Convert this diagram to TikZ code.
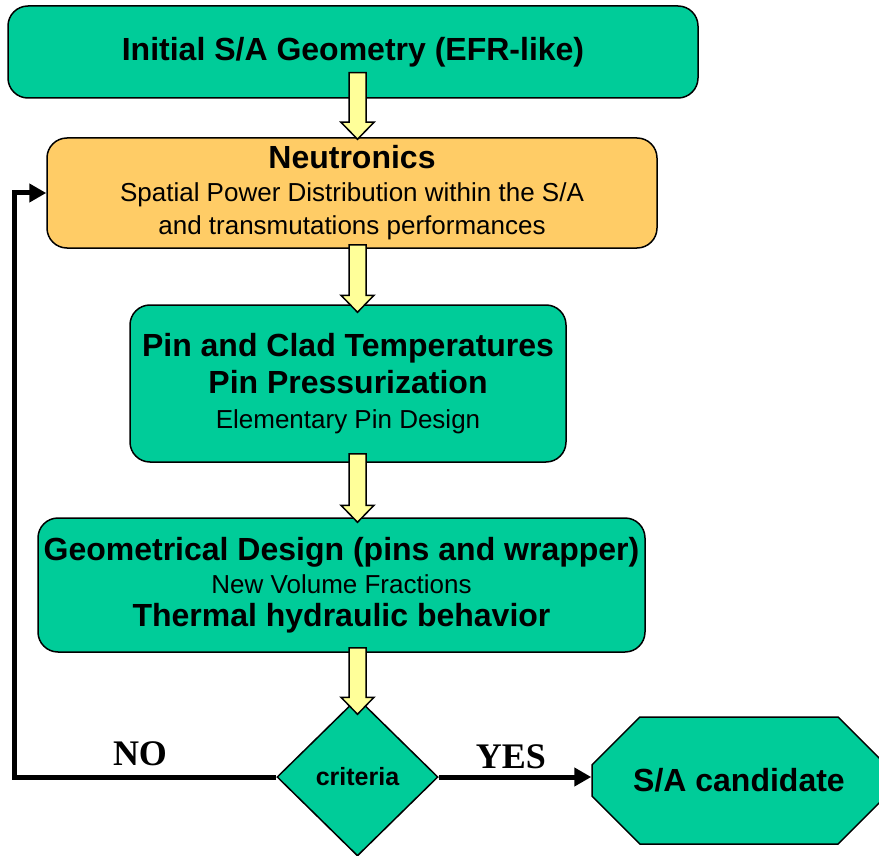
\documentclass[tikz,border=0pt]{standalone}
\usepackage{fontspec}
\setmainfont{Liberation Sans}
\newfontfamily\answerfont{Liberation Serif}
\usetikzlibrary{shapes.geometric,shapes.misc,calc,arrows.meta}

\definecolor{boxgreen}{HTML}{00CC99}
\definecolor{boxorange}{HTML}{FFCC66}
\definecolor{arrowyellow}{HTML}{FFFF99}

\newcommand{\headfont}{\bfseries\fontsize{32}{38}\selectfont}
\newcommand{\subfont}{\fontsize{26}{33}\selectfont}

% yellow block arrow: from node, to node, overlap at start, overlap at tip
\newcommand{\flowarrow}[4]{%
  \path ($(#1.south -| axis)+(0,-#3)$) coordinate (fa-from)
        ($(#2.north -| axis)+(0,#4)$) coordinate (fa-to);
  \draw[flowarrow] let \p1=(fa-from), \p2=(fa-to) in
    (\x1-8.5pt,\y1) -- (\x1+8.5pt,\y1) -- (\x1+8.5pt,\y2+17pt)
    -- (\x1+16.5pt,\y2+17pt) -- (\x1,\y2) -- (\x1-16.5pt,\y2+17pt)
    -- (\x1-8.5pt,\y2+17pt) -- cycle;}

\begin{document}
\begin{tikzpicture}[
            x=1pt, y=-1pt,
            box/.style={rectangle, draw, line width=1.5pt, rounded corners=20pt, fill=boxgreen, inner sep=0pt, align=center, font=\subfont},
            flowarrow/.style={draw, line width=1.5pt, fill=arrowyellow, line join=miter},
            decision/.style={diamond, draw, line width=1.5pt, fill=boxgreen, inner sep=0pt, minimum width=161pt, minimum height=158pt, font=\bfseries\fontsize{25}{30}\selectfont},
            result/.style={chamfered rectangle, chamfered rectangle xsep=36pt, chamfered rectangle ysep=36pt, draw, line width=1.5pt, fill=boxgreen, inner sep=0pt, minimum width=294pt, minimum height=127pt, font=\headfont},
            loopline/.style={line width=5pt, -{Triangle[length=17pt, width=18pt]}},
            answer/.style={font=\answerfont\bfseries\fontsize{36}{40}\selectfont}
            ]
            \useasboundingbox (0,0) rectangle (879,856);
            \clip (0,0) rectangle (879,856);
            \coordinate (axis) at (357.5,0);

            % Design steps
            \node[box, minimum width=690pt, minimum height=92pt] (init) at (353,52) {{\headfont Initial S/A Geometry (EFR-like)}};
            \node[box, fill=boxorange, minimum width=610pt, minimum height=110pt] (neut) at (352,193)
                {{\headfont Neutronics}\\Spatial Power Distribution within the S/A\\and transmutations performances};
            \node[box, minimum width=436pt, minimum height=157pt] (pin) at (348,383.5)
                {{\headfont Pin and Clad Temperatures}\\[4pt]{\headfont Pin Pressurization}\\[2pt]Elementary Pin Design};
            \node[box, minimum width=607pt, minimum height=134pt] (geom) at (341.5,585)
                {{\headfont Geometrical Design (pins and wrapper)}\\New Volume Fractions\\{\headfont Thermal hydraulic behavior}};

            % Check and outcome
            \node[decision] (crit) at (357.5,777) {criteria};
            \node[result] (cand) at (739,780.5) {S/A candidate};

            % Arrows
            \flowarrow{init}{neut}{26}{2}
            \flowarrow{neut}{pin}{4}{8}
            \flowarrow{pin}{geom}{9}{5}
            \flowarrow{geom}{crit}{5}{17}
            \coordinate (ret) at ($(neut.west)+(-32,0)$);
            \draw[loopline] (crit.west) -| (ret) -- (neut.west);
            \draw[loopline] (crit.east) -- (crit.east -| cand.west);

            % Answers
            \node[answer] (nolbl) at (140,754) {NO};
            \node[answer] (yeslbl) at (511,757) {YES};

        \end{tikzpicture}
\end{document}
